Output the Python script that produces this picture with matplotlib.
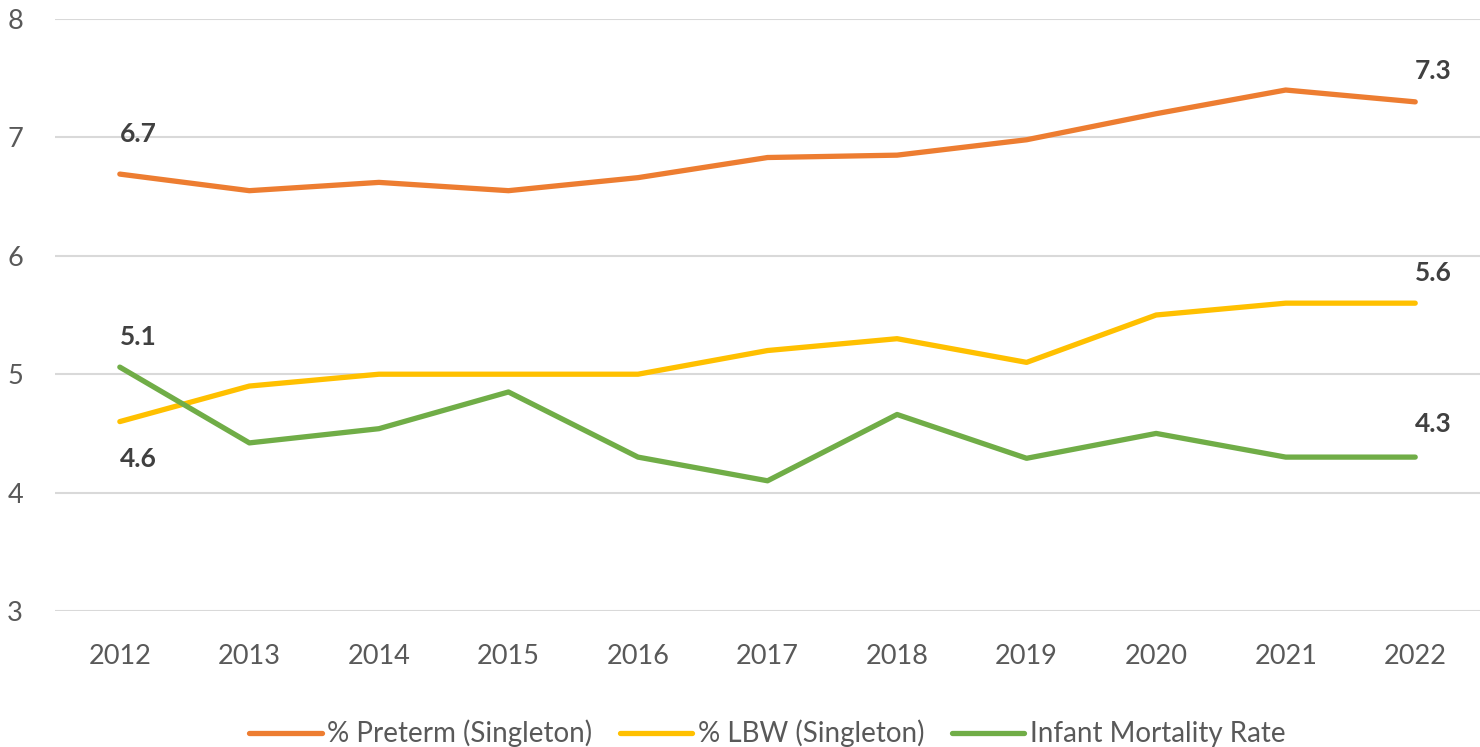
import matplotlib.pyplot as plt

plt.rcParams['font.family'] = ['Lato', 'DejaVu Sans']

years = ['2012', '2013', '2014', '2015', '2016', '2017', '2018', '2019', '2020', '2021', '2022']
preterm = [6.69, 6.55, 6.62, 6.55, 6.66, 6.83, 6.85, 6.98, 7.2, 7.4, 7.3]
lbw = [4.6, 4.9, 5.0, 5.0, 5.0, 5.2, 5.3, 5.1, 5.5, 5.6, 5.6]
imr = [5.06, 4.42, 4.54, 4.85, 4.3, 4.1, 4.66, 4.29, 4.5, 4.3, 4.3]

names = ['% Preterm (Singleton)', '% LBW (Singleton)', 'Infant Mortality Rate']
colors = ['#ED7D31', '#FFC000', '#70AD47']

fig = plt.figure(figsize=(14.8, 7.47), dpi=100)
ax = fig.add_axes([0.0372, 0.182, 0.9628, 0.7926])

x = list(range(len(years)))
for vals, name, c in zip([preterm, lbw, imr], names, colors):
    ax.plot(x, vals, color=c, lw=3.8, label=name, solid_capstyle='round', solid_joinstyle='round')

# data labels at first and last points (offset in points)
labels = [
    (preterm, 0, 29), (preterm, 10, 22),
    (lbw, 0, -27), (lbw, 10, 22),
    (imr, 0, 22), (imr, 10, 24),
]
for vals, i, dy in labels:
    ax.annotate(f'{vals[i]:.1f}', (x[i], vals[i]), xytext=(13, dy), textcoords='offset points',
                ha='center', va='center', fontsize=19, fontweight='bold', color='#404040')

ax.set_xlim(-0.5, 10.5)
ax.set_ylim(3, 8)
ax.set_yticks([3, 4, 5, 6, 7, 8])
ax.set_xticks(x)
ax.set_xticklabels(years)
ax.grid(axis='y', color='#D9D9D9', lw=1.5)
ax.set_axisbelow(True)
for s in ax.spines.values():
    s.set_visible(False)
ax.tick_params(length=0, labelsize=19.5, labelcolor='#595959')
ax.tick_params(axis='y', pad=23)
ax.tick_params(axis='x', pad=24)

ax.legend(loc='center', bbox_to_anchor=(0.5, -0.207), ncol=3, frameon=False, fontsize=20,
          labelcolor='#595959', handlelength=2.6, handletextpad=0.2, columnspacing=1.0)

fig.savefig('out.png', dpi=100)
